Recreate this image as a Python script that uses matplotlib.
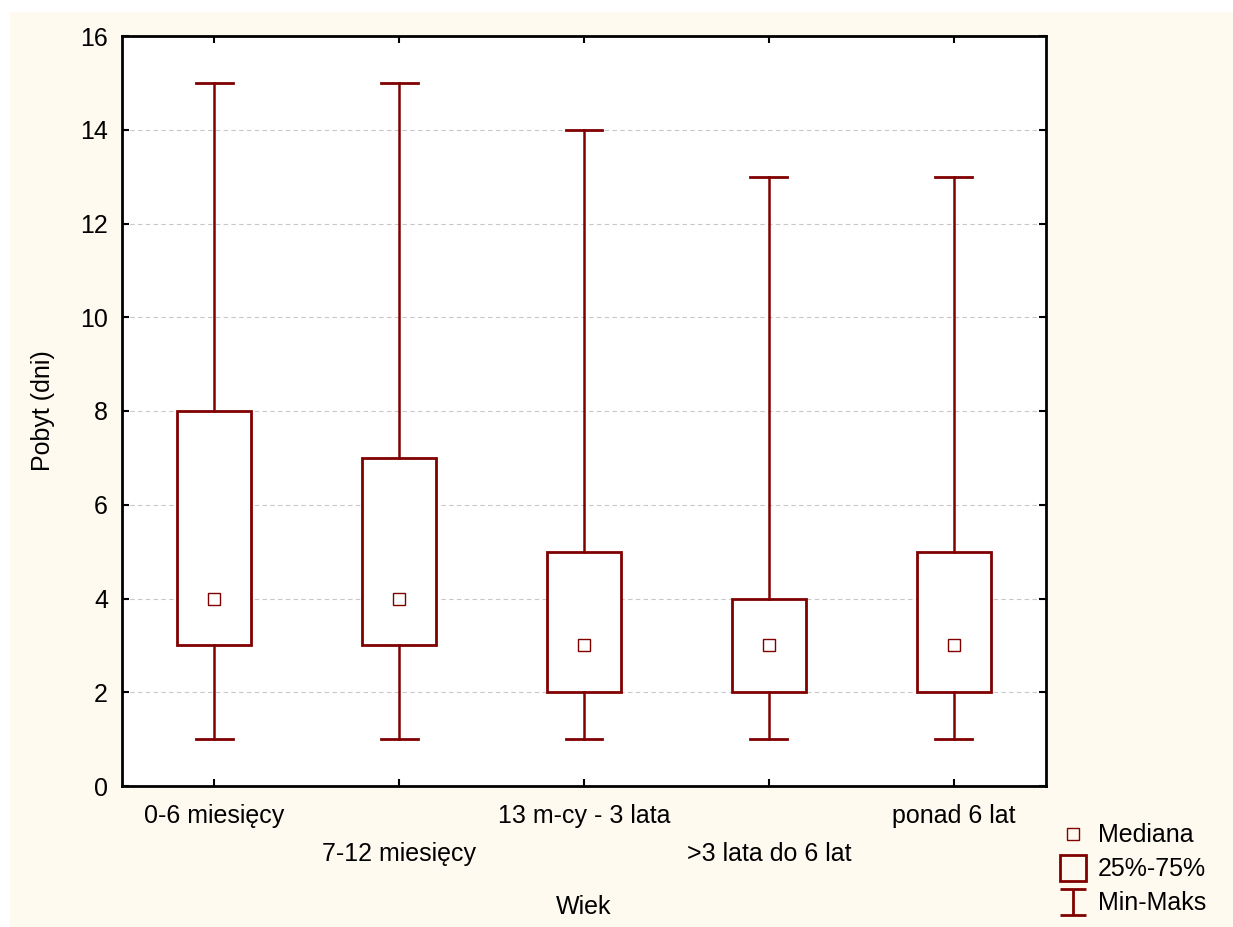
import matplotlib.pyplot as plt
import numpy as np
from matplotlib.lines import Line2D
from matplotlib.patches import Rectangle
from matplotlib.path import Path

plt.rcParams["font.family"] = ["Liberation Sans", "DejaVu Sans"]

categories = ["0-6 miesięcy", "7-12 miesięcy", "13 m-cy - 3 lata", ">3 lata do 6 lat", "ponad 6 lat"]
min_vals = [1, 1, 1, 1, 1]
q1_vals = [3, 3, 2, 2, 2]
medians = [4, 4, 3, 3, 3]
q3_vals = [8, 7, 5, 4, 5]
max_vals = [15, 15, 14, 13, 13]

RED = "#800000"
CREAM = "#FFFAF0"
FS = 18

fig = plt.figure(figsize=(12.33, 9.27), dpi=100, facecolor="white")
fig.patches.append(Rectangle((10 / 1233, 0), 1 - 10 / 1233, 1 - 12 / 927,
                             transform=fig.transFigure, facecolor=CREAM,
                             edgecolor="none", zorder=-10))

ax = fig.add_axes([122 / 1233, 1 - 786 / 927, (1046 - 122) / 1233, (786 - 36) / 927])
ax.set_facecolor("white")

x = np.arange(len(categories))
box_w = 0.4
cap_w = 0.2
for xi, lo, q1, med, q3, hi in zip(x, min_vals, q1_vals, medians, q3_vals, max_vals):
    ax.add_patch(Rectangle((xi - box_w / 2, q1), box_w, q3 - q1, facecolor="white",
                           edgecolor=RED, linewidth=2.0, zorder=3))
    ax.plot([xi, xi], [hi, q3], color=RED, linewidth=1.8, zorder=3)
    ax.plot([xi, xi], [q1, lo], color=RED, linewidth=1.8, zorder=3)
    ax.plot([xi - cap_w / 2, xi + cap_w / 2], [hi, hi], color=RED, linewidth=2.0, zorder=3)
    ax.plot([xi - cap_w / 2, xi + cap_w / 2], [lo, lo], color=RED, linewidth=2.0, zorder=3)
    ax.plot(xi, med, marker="s", markersize=8, markerfacecolor="white",
            markeredgecolor=RED, markeredgewidth=1.0, zorder=4)

ax.set_xlim(-0.5, len(categories) - 0.5)
ax.set_ylim(0, 16)
ax.set_yticks(np.arange(0, 17, 2))
ax.set_xticks(x)
ax.set_xticklabels(categories)
ax.grid(axis="y", color="#c8c8c8", linestyle=(0, (4, 3)), linewidth=0.8, zorder=1)
ax.set_axisbelow(True)

for s in ax.spines.values():
    s.set_linewidth(2.0)
    s.set_color("black")

ax.tick_params(axis="both", direction="in", length=5, width=1.5, labelsize=FS,
               top=True, right=True)
ax.tick_params(axis="x", pad=13)
ax.tick_params(axis="y", pad=10)
for i, tick in enumerate(ax.xaxis.get_major_ticks()):
    if i % 2 == 1:
        tick.set_pad(40)

ax.set_xlabel("Wiek", fontsize=FS)
ax.set_ylabel("Pobyt (dni)", fontsize=FS)
ax.xaxis.set_label_coords(0.5, -0.146)
ax.yaxis.set_label_coords(-0.072, 0.5)

# I-beam glyph for the min-max legend entry
ibeam = Path([(-1, 1), (1, 1), (0, 1), (0, -1), (-1, -1), (1, -1)],
             [Path.MOVETO, Path.LINETO, Path.MOVETO, Path.LINETO, Path.MOVETO, Path.LINETO])

handles = [
    Line2D([], [], linestyle="none", marker="s", markersize=8, markerfacecolor="none",
           markeredgecolor=RED, markeredgewidth=1.0),
    Line2D([], [], linestyle="none", marker="s", markersize=19, markerfacecolor="none",
           markeredgecolor=RED, markeredgewidth=2.0),
    Line2D([], [], linestyle="none", marker=ibeam, markersize=19, markerfacecolor="none",
           markeredgecolor=RED, markeredgewidth=2.0),
]
labels = ["Mediana", "25%-75%", "Min-Maks"]
fig.legend(handles, labels, loc="upper left", bbox_to_anchor=(1040 / 1233, 1 - 806 / 927),
           frameon=False, fontsize=FS, handlelength=1.2, handletextpad=0.4,
           labelspacing=0.4, borderpad=0.2)

fig.savefig("out.png", dpi=100, facecolor=fig.get_facecolor())
